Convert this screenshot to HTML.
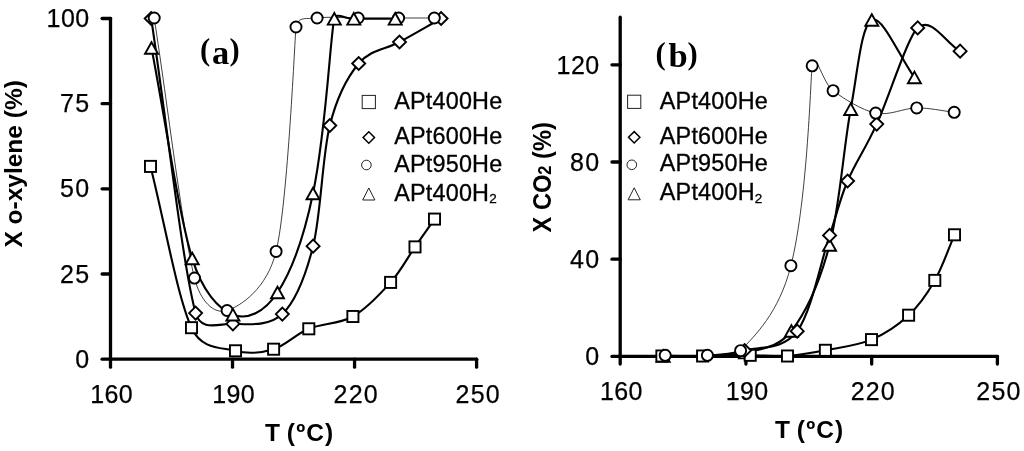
<!DOCTYPE html>
<html lang="en"><head><meta charset="utf-8"><title>Figure</title>
<style>
html,body{margin:0;padding:0;background:#fff;}
body{width:1024px;height:451px;overflow:hidden;}
svg{display:block;}
</style></head><body>
<svg width="1024" height="451" viewBox="0 0 1024 451">
<g stroke="#000" stroke-width="3.30" stroke-linecap="round" fill="none">
<path d="M110.50,18.50 L110.50,367.20"/>
<path d="M102.10,359.20 L476.60,359.20"/>
<path d="M232.53,359.20 L232.53,367.20"/>
<path d="M354.57,359.20 L354.57,367.20"/>
<path d="M476.60,359.20 L476.60,367.20"/>
<path d="M102.10,274.02 L110.50,274.02"/>
<path d="M102.10,188.85 L110.50,188.85"/>
<path d="M102.10,103.68 L110.50,103.68"/>
<path d="M102.10,18.50 L110.50,18.50"/>
</g>
<g fill="none" stroke="#000" stroke-width="2.1" stroke-linejoin="round" stroke-linecap="round">
<path d="M150.50,166.40 C164.17,220.17 177.33,296.97 191.50,327.70 C201.90,350.27 221.82,347.22 235.50,350.80 C249.18,354.38 261.38,352.87 273.60,349.20 C285.82,345.53 295.58,334.25 308.80,328.80 C322.02,323.35 339.27,324.23 352.90,316.50 C366.53,308.77 380.25,294.00 390.60,282.40 C400.95,270.80 407.68,257.45 415.00,246.90 C422.32,236.35 428.00,228.37 434.50,219.10"/>
<path d="M151.20,18.50 C166.00,116.70 181.98,262.22 195.60,313.10 C200.62,331.84 218.45,323.63 232.90,323.80 C247.35,323.97 268.93,327.03 282.30,314.10 C295.67,301.17 305.18,277.63 313.10,246.20 C321.02,214.77 322.20,155.95 329.80,125.50 C337.40,95.05 347.08,77.42 358.70,63.50 C370.32,49.58 385.77,49.50 399.50,42.00 C413.23,34.50 427.23,26.33 441.10,18.50"/>
<path d="M151.50,48.00 C165.07,118.13 178.63,213.95 192.20,258.40 C202.34,291.62 218.68,309.02 232.90,314.70 C247.12,320.38 264.15,312.70 277.50,292.50 C290.85,272.30 303.53,239.12 313.00,193.50 C326.41,128.88 330.21,36.33 334.30,18.80 C335.87,12.08 345.80,18.80 353.80,18.80 C363.95,18.80 381.40,18.80 395.20,18.80"/>
</g>
<path d="M154.20,18.00 C167.63,104.70 182.35,229.35 194.50,278.10 C200.06,300.40 213.50,314.95 227.10,310.50 C240.70,306.05 267.03,288.70 276.10,251.40 C287.91,202.81 295.13,31.92 296.00,27.00 C297.98,15.70 306.75,19.50 317.10,18.00 C327.45,16.50 344.52,18.00 358.10,18.00 C371.68,18.00 385.90,18.00 398.60,18.00 C411.30,18.00 422.40,18.00 434.30,18.00" fill="none" stroke="#000" stroke-width="0.75"/>
<g fill="#fff" stroke="#000" stroke-width="1.90" stroke-linejoin="miter">
<rect x="144.95" y="160.85" width="11.10" height="11.10"/>
<rect x="185.95" y="322.15" width="11.10" height="11.10"/>
<rect x="229.95" y="345.25" width="11.10" height="11.10"/>
<rect x="268.05" y="343.65" width="11.10" height="11.10"/>
<rect x="303.25" y="323.25" width="11.10" height="11.10"/>
<rect x="347.35" y="310.95" width="11.10" height="11.10"/>
<rect x="385.05" y="276.85" width="11.10" height="11.10"/>
<rect x="409.45" y="241.35" width="11.10" height="11.10"/>
<rect x="428.95" y="213.55" width="11.10" height="11.10"/>
<path d="M144.70,18.50 L151.20,12.00 L157.70,18.50 L151.20,25.00 Z"/>
<path d="M189.10,313.10 L195.60,306.60 L202.10,313.10 L195.60,319.60 Z"/>
<path d="M226.40,323.80 L232.90,317.30 L239.40,323.80 L232.90,330.30 Z"/>
<path d="M275.80,314.10 L282.30,307.60 L288.80,314.10 L282.30,320.60 Z"/>
<path d="M306.60,246.20 L313.10,239.70 L319.60,246.20 L313.10,252.70 Z"/>
<path d="M323.30,125.50 L329.80,119.00 L336.30,125.50 L329.80,132.00 Z"/>
<path d="M352.20,63.50 L358.70,57.00 L365.20,63.50 L358.70,70.00 Z"/>
<path d="M393.00,42.00 L399.50,35.50 L406.00,42.00 L399.50,48.50 Z"/>
<path d="M434.60,18.50 L441.10,12.00 L447.60,18.50 L441.10,25.00 Z"/>
<circle cx="154.20" cy="18.00" r="5.55"/>
<circle cx="194.50" cy="278.10" r="5.55"/>
<circle cx="227.10" cy="310.50" r="5.55"/>
<circle cx="276.10" cy="251.40" r="5.55"/>
<circle cx="296.00" cy="27.00" r="5.55"/>
<circle cx="317.10" cy="18.00" r="5.55"/>
<circle cx="358.10" cy="18.00" r="5.55"/>
<circle cx="398.60" cy="18.00" r="5.55"/>
<circle cx="434.30" cy="18.00" r="5.55"/>
<path d="M151.50,42.20 L158.00,53.80 L145.00,53.80 Z"/>
<path d="M192.20,252.60 L198.70,264.20 L185.70,264.20 Z"/>
<path d="M232.90,308.90 L239.40,320.50 L226.40,320.50 Z"/>
<path d="M277.50,286.70 L284.00,298.30 L271.00,298.30 Z"/>
<path d="M313.00,187.70 L319.50,199.30 L306.50,199.30 Z"/>
<path d="M334.30,13.00 L340.80,24.60 L327.80,24.60 Z"/>
<path d="M353.80,13.00 L360.30,24.60 L347.30,24.60 Z"/>
<path d="M395.20,13.00 L401.70,24.60 L388.70,24.60 Z"/>
</g>
<g stroke="#000" stroke-width="3.30" stroke-linecap="round" fill="none">
<path d="M620.20,17.20 L620.20,364.00"/>
<path d="M612.00,356.40 L997.40,356.40"/>
<path d="M745.93,356.40 L745.93,364.00"/>
<path d="M871.67,356.40 L871.67,364.00"/>
<path d="M997.40,356.40 L997.40,364.00"/>
<path d="M612.00,259.20 L620.20,259.20"/>
<path d="M612.00,162.00 L620.20,162.00"/>
<path d="M612.00,64.80 L620.20,64.80"/>
</g>
<g fill="none" stroke="#000" stroke-width="2.1" stroke-linejoin="round" stroke-linecap="round">
<path d="M661.90,356.00 C675.47,356.00 687.88,356.12 702.60,356.00 C717.32,355.88 736.05,355.30 750.20,355.30 C764.35,355.30 774.97,356.83 787.50,356.00 C800.03,355.17 811.40,353.03 825.40,350.30 C839.40,347.57 857.63,345.45 871.50,339.60 C885.37,333.75 898.05,325.07 908.60,315.20 C919.15,305.33 927.15,293.80 934.80,280.40 C942.45,267.00 947.93,250.00 954.50,234.80"/>
<path d="M661.90,356.00 C675.47,356.00 688.82,356.92 702.60,356.00 C716.38,355.08 728.83,354.63 744.60,350.50 C760.37,346.37 783.03,350.38 797.20,331.20 C811.37,312.02 821.20,260.43 829.60,235.40 C838.00,210.37 839.75,199.55 847.60,181.00 C855.45,162.45 865.02,149.62 876.70,124.10 C888.38,98.58 907.91,36.46 917.70,27.90 C931.60,15.75 945.97,43.43 960.10,51.20"/>
<path d="M663.20,355.90 C676.33,355.93 688.88,356.55 702.60,356.00 C716.32,355.45 730.70,356.77 745.50,352.60 C760.30,348.43 777.38,348.93 791.40,331.00 C805.42,313.07 819.72,281.97 829.60,245.00 C839.48,208.03 843.67,146.70 850.70,109.20 C857.73,71.70 861.18,25.30 871.80,20.00 C882.42,14.70 900.20,58.27 914.40,77.40"/>
</g>
<path d="M665.20,355.30 C679.27,355.30 694.83,356.07 707.40,355.30 C719.97,354.53 729.17,362.96 740.60,350.70 C754.52,335.77 778.97,313.18 790.90,265.70 C807.96,197.81 810.79,71.63 812.20,65.80 C816.01,50.00 822.52,82.82 833.10,90.70 C843.68,98.58 861.77,110.23 875.70,113.10 C889.63,115.97 903.62,108.03 916.70,107.90 C929.78,107.77 941.70,110.83 954.20,112.30" fill="none" stroke="#000" stroke-width="0.75"/>
<g fill="#fff" stroke="#000" stroke-width="1.90" stroke-linejoin="miter">
<path d="M663.20,350.10 L669.70,361.70 L656.70,361.70 Z"/>
<path d="M745.50,346.80 L752.00,358.40 L739.00,358.40 Z"/>
<path d="M791.40,325.20 L797.90,336.80 L784.90,336.80 Z"/>
<path d="M829.60,239.20 L836.10,250.80 L823.10,250.80 Z"/>
<path d="M850.70,103.40 L857.20,115.00 L844.20,115.00 Z"/>
<path d="M871.80,14.20 L878.30,25.80 L865.30,25.80 Z"/>
<path d="M914.40,71.60 L920.90,83.20 L907.90,83.20 Z"/>
<rect x="656.35" y="350.45" width="11.10" height="11.10"/>
<rect x="697.05" y="350.45" width="11.10" height="11.10"/>
<rect x="744.65" y="349.75" width="11.10" height="11.10"/>
<rect x="781.95" y="350.45" width="11.10" height="11.10"/>
<rect x="819.85" y="344.75" width="11.10" height="11.10"/>
<rect x="865.95" y="334.05" width="11.10" height="11.10"/>
<rect x="903.05" y="309.65" width="11.10" height="11.10"/>
<rect x="929.25" y="274.85" width="11.10" height="11.10"/>
<rect x="948.95" y="229.25" width="11.10" height="11.10"/>
<path d="M738.10,350.50 L744.60,344.00 L751.10,350.50 L744.60,357.00 Z"/>
<path d="M790.70,331.20 L797.20,324.70 L803.70,331.20 L797.20,337.70 Z"/>
<path d="M823.10,235.40 L829.60,228.90 L836.10,235.40 L829.60,241.90 Z"/>
<path d="M841.10,181.00 L847.60,174.50 L854.10,181.00 L847.60,187.50 Z"/>
<path d="M870.20,124.10 L876.70,117.60 L883.20,124.10 L876.70,130.60 Z"/>
<path d="M911.20,27.90 L917.70,21.40 L924.20,27.90 L917.70,34.40 Z"/>
<path d="M953.60,51.20 L960.10,44.70 L966.60,51.20 L960.10,57.70 Z"/>
<circle cx="665.20" cy="355.30" r="5.55"/>
<circle cx="707.40" cy="355.30" r="5.55"/>
<circle cx="740.60" cy="350.70" r="5.55"/>
<circle cx="790.90" cy="265.70" r="5.55"/>
<circle cx="812.20" cy="65.80" r="5.55"/>
<circle cx="833.10" cy="90.70" r="5.55"/>
<circle cx="875.70" cy="113.10" r="5.55"/>
<circle cx="916.70" cy="107.90" r="5.55"/>
<circle cx="954.20" cy="112.30" r="5.55"/>
</g>
<g font-family="'Liberation Sans', Arial, sans-serif" font-size="25" fill="#000" stroke="#000" stroke-width="0.25">
<text x="90.3" y="367.8" text-anchor="end" letter-spacing="1.2">0</text>
<text x="90.3" y="282.6" text-anchor="end" letter-spacing="1.2">25</text>
<text x="90.3" y="197.4" text-anchor="end" letter-spacing="1.2">50</text>
<text x="90.3" y="112.3" text-anchor="end" letter-spacing="1.2">75</text>
<text x="89.5" y="27.1" text-anchor="end" letter-spacing="0.4">100</text>
<text x="111.7" y="403" text-anchor="middle" letter-spacing="0.4">160</text>
<text x="233.7" y="403" text-anchor="middle" letter-spacing="0.4">190</text>
<text x="356.2" y="403" text-anchor="middle" letter-spacing="1.2">220</text>
<text x="478.2" y="403" text-anchor="middle" letter-spacing="1.2">250</text>
<text x="600.3" y="365.2" text-anchor="end" letter-spacing="1.2">0</text>
<text x="600.3" y="268.0" text-anchor="end" letter-spacing="1.2">40</text>
<text x="600.3" y="170.8" text-anchor="end" letter-spacing="1.2">80</text>
<text x="599.5" y="73.6" text-anchor="end" letter-spacing="0.4">120</text>
<text x="621.4" y="400" text-anchor="middle" letter-spacing="0.4">160</text>
<text x="747.1" y="400" text-anchor="middle" letter-spacing="0.4">190</text>
<text x="873.3" y="400" text-anchor="middle" letter-spacing="1.2">220</text>
<text x="999.0" y="400" text-anchor="middle" letter-spacing="1.2">250</text>
</g>
<g font-family="'Liberation Sans', Arial, sans-serif" font-size="24.5" font-weight="bold" fill="#000">
<text x="265" y="440.6">T (<tspan dx="1.2">º</tspan><tspan dx="1.2">C</tspan><tspan dx="1.1">)</tspan></text>
<text x="775" y="438">T (<tspan dx="1.2">º</tspan><tspan dx="1.2">C</tspan><tspan dx="1.1">)</tspan></text>
<text transform="translate(22.2,247.6) rotate(-90)">X o-xylene (%)</text>
<text transform="translate(550.6,232.4) rotate(-90) scale(0.965,1.05)">X CO<tspan font-size="17" dy="0.8">2</tspan><tspan dy="-0.8"> (%)</tspan></text>
</g>
<g font-family="'Liberation Serif', 'Times New Roman', serif" font-weight="bold" fill="#000">
<text font-size="30.6" x="199.90" y="60.40">(</text><text font-size="34.5" x="211.95" y="63.80">a</text><text font-size="30.6" x="229.50" y="60.40">)</text>
<text font-size="30.6" x="655.60" y="63.90">(</text><text font-size="34.5" x="668.40" y="67.00">b</text><text font-size="30.6" x="687.50" y="63.90">)</text>
</g>
<g fill="#fff" stroke="#222" stroke-width="1.0">
<rect x="362.20" y="95.40" width="13.2" height="13.2"/>
<path stroke="#000" stroke-width="1.5" d="M363.10,137.50 L368.80,131.80 L374.50,137.50 L368.80,143.20 Z"/>
<circle cx="366.40" cy="165.00" r="4.8"/>
<path d="M368.80,188.00 L374.90,200.00 L362.70,200.00 Z"/>
</g>
<g font-family="'Liberation Sans', Arial, sans-serif" font-size="23.4" fill="#000" stroke="#000" stroke-width="0.3" letter-spacing="0.2">
<text x="394.2" y="108.9">APt400He</text>
<text x="394.2" y="144.4">APt600He</text>
<text x="394.2" y="171.6">APt950He</text>
<text x="394.2" y="200.6">APt400H<tspan font-size="13.5" dy="2.4">2</tspan></text>
</g>
<g fill="#fff" stroke="#222" stroke-width="1.0">
<rect x="627.60" y="95.20" width="13.2" height="13.2"/>
<path stroke="#000" stroke-width="1.5" d="M628.50,137.30 L634.20,131.60 L639.90,137.30 L634.20,143.00 Z"/>
<circle cx="631.80" cy="164.80" r="4.8"/>
<path d="M634.20,187.80 L640.30,199.80 L628.10,199.80 Z"/>
</g>
<g font-family="'Liberation Sans', Arial, sans-serif" font-size="23.4" fill="#000" stroke="#000" stroke-width="0.3" letter-spacing="0.2">
<text x="659.8" y="108.7">APt400He</text>
<text x="659.8" y="144.2">APt600He</text>
<text x="659.8" y="171.4">APt950He</text>
<text x="659.8" y="200.4">APt400H<tspan font-size="13.5" dy="2.4">2</tspan></text>
</g>
</svg>
</body></html>
